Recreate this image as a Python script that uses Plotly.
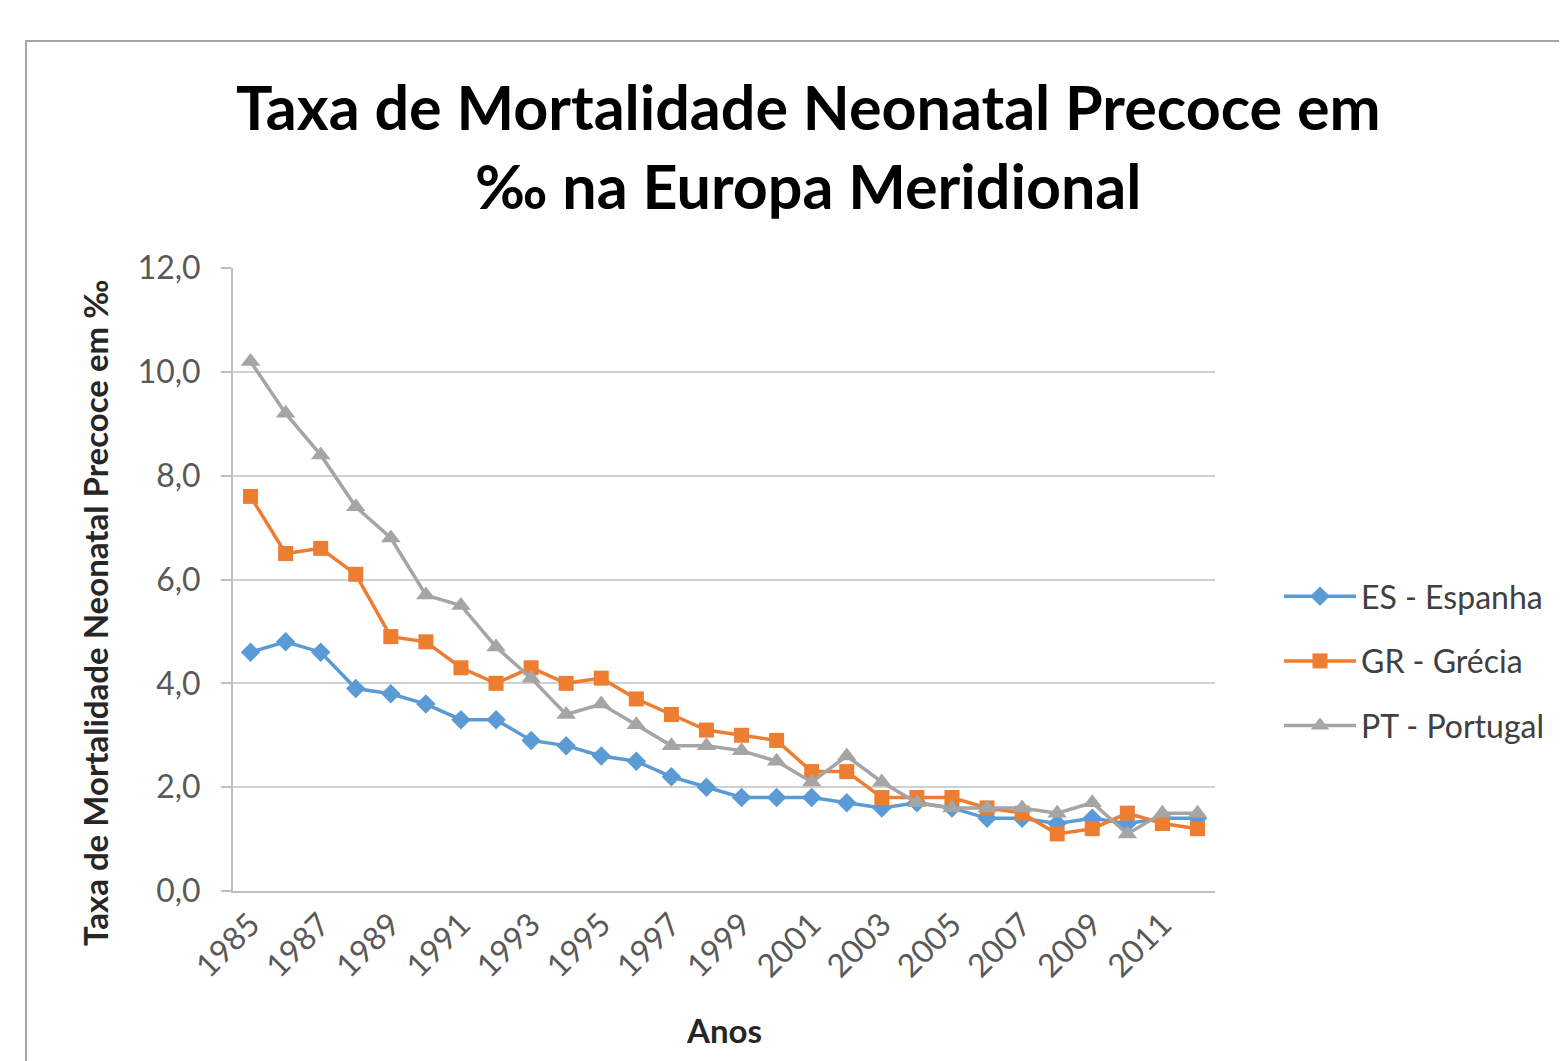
import plotly.graph_objects as go

years = [str(y) for y in range(1985, 2013)]
es = [4.6, 4.8, 4.6, 3.9, 3.8, 3.6, 3.3, 3.3, 2.9, 2.8, 2.6, 2.5, 2.2, 2.0,
      1.8, 1.8, 1.8, 1.7, 1.6, 1.7, 1.6, 1.4, 1.4, 1.3, 1.4, 1.3, 1.4, 1.4]
gr = [7.6, 6.5, 6.6, 6.1, 4.9, 4.8, 4.3, 4.0, 4.3, 4.0, 4.1, 3.7, 3.4, 3.1,
      3.0, 2.9, 2.3, 2.3, 1.8, 1.8, 1.8, 1.6, 1.5, 1.1, 1.2, 1.5, 1.3, 1.2]
pt = [10.2, 9.2, 8.4, 7.4, 6.8, 5.7, 5.5, 4.7, 4.1, 3.4, 3.6, 3.2, 2.8, 2.8,
      2.7, 2.5, 2.1, 2.6, 2.1, 1.7, 1.6, 1.6, 1.6, 1.5, 1.7, 1.1, 1.5, 1.5]
tick_years = [str(y) for y in range(1985, 2013, 2)]
y_ticks = [0, 2, 4, 6, 8, 10, 12]

FONT = "Lato"
series = [
    ("ES - Espanha", es, "#5B9BD5", "diamond", 15),
    ("GR - Grécia", gr, "#ED7D31", "square", 15),
    ("PT - Portugal", pt, "#A5A5A5", "triangle-up", 17),
]

fig = go.Figure()
for i, (name, vals, color, sym, size) in enumerate(series):
    fig.add_trace(go.Scatter(
        x=years, y=vals, name=name, mode="lines+markers",
        line=dict(color=color, width=3.5),
        marker=dict(symbol=sym, size=size, color=color),
        legendgroup=f"g{i}",
    ))

OFF = 7  # page body offset
W, H = 1567, 1061
L, R, T, B = 232 - OFF, 1214 - OFF, 267 - OFF, 890 - OFF

def px(x):
    return (x - OFF - L) / (R - L)

def py(y):
    return (B - (y - OFF)) / (B - T)

fig.update_layout(
    width=W, height=H,
    margin=dict(l=L, r=W - R, t=T, b=H - B),
    paper_bgcolor="white", plot_bgcolor="white",
    separators=",.",
    font=dict(family=FONT, color="#595959", size=30),
    showlegend=True,
    legend=dict(
        x=px(1278), y=py(660), xanchor="left", yanchor="middle",
        font=dict(family=FONT, size=32, color="#404040"),
        traceorder="grouped", tracegroupgap=20, itemwidth=72,
        bgcolor="rgba(0,0,0,0)",
    ),
    xaxis=dict(
        type="category", categoryorder="array", categoryarray=years,
        tickmode="array", tickvals=tick_years, ticktext=tick_years,
        tickangle=-45, tickfont=dict(family=FONT, size=32, color="#595959"),
        showgrid=False, showline=True, linecolor="#BFBFBF", linewidth=2,
        ticks="", range=[-0.5, len(years) - 0.5], zeroline=False,
    ),
    yaxis=dict(
        range=[0, 12], tickvals=y_ticks, tickformat=".1f",
        tickfont=dict(family=FONT, size=32, color="#595959"),
        showgrid=True, gridcolor="#D0D0D0", gridwidth=2,
        showline=True, linecolor="#BFBFBF", linewidth=2,
        ticks="outside", ticklen=10, tickcolor="#BFBFBF", tickwidth=2,
        ticklabelstandoff=14, zeroline=False,
    ),
    shapes=[dict(
        type="rect", xref="paper", yref="paper",
        x0=px(25), y0=py(1100), x1=px(1620), y1=py(40),
        line=dict(color="#A6A6A6", width=2), fillcolor="rgba(0,0,0,0)",
        layer="below",
    )],
    annotations=[
        dict(text="<b>Taxa de Mortalidade Neonatal Precoce em<br>‰ na Europa Meridional</b>",
             xref="paper", yref="paper", x=px(807), y=py(145),
             xanchor="center", yanchor="middle", showarrow=False,
             font=dict(family=FONT, size=61, color="#000000")),
        dict(text="<b>Taxa de Mortalidade Neonatal Precoce em ‰</b>",
             xref="paper", yref="paper", x=px(94), y=py(612),
             xanchor="center", yanchor="middle", textangle=-90, showarrow=False,
             font=dict(family=FONT, size=33, color="#262626")),
        dict(text="<b>Anos</b>",
             xref="paper", yref="paper", x=px(723), y=py(1029),
             xanchor="center", yanchor="middle", showarrow=False,
             font=dict(family=FONT, size=33, color="#262626")),
    ],
)

fig.write_html("out.html")
